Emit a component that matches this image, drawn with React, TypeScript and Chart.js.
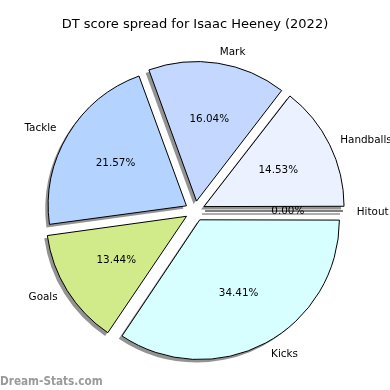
import React, { useEffect, useRef } from "react";
import { Chart, registerables } from "chart.js";

Chart.register(...registerables);

// Data in matplotlib order (counter-clockwise from 3 o'clock)
const categories = ["Hitout", "Handballs", "Mark", "Tackle", "Goals", "Kicks"];
const values = [0, 14.53, 16.04, 21.57, 13.44, 34.41];
const colors = ["#ffffff", "#ebf1ff", "#c4d8ff", "#b4d4ff", "#d1eb8b", "#d8ffff"];
const titleText = "DT score spread for Isaac Heeney (2022)";
const watermark = "Dream-Stats.com";

const FONT = '"DejaVu Sans", sans-serif';

const piePlugin = {
  id: "mplPie",
  beforeDatasetsDraw(chart: any) {
    const ctx = chart.ctx;
    const meta = chart.getDatasetMeta(0);
    meta.data.forEach((arc: any) => {
      const { x, y, startAngle, endAngle, outerRadius } = arc;
      const off = (arc.options.offset || 0) / 4;
      const half = (startAngle + endAngle) / 2;
      const circ = endAngle - startAngle;
      const fix = 1 - Math.sin(Math.min(Math.PI, circ || 0));
      const R = outerRadius + off * fix;
      ctx.save();
      ctx.translate(Math.cos(half) * off - 3, Math.sin(half) * off + 3);
      if (circ <= 0) {
        ctx.strokeStyle = "rgba(40,40,40,0.5)";
        ctx.lineWidth = 1.5;
        ctx.beginPath();
        ctx.moveTo(x, y);
        ctx.lineTo(x + Math.cos(half) * outerRadius, y + Math.sin(half) * outerRadius);
        ctx.stroke();
      } else {
        ctx.fillStyle = "rgba(40,40,40,0.5)";
        ctx.beginPath();
        ctx.moveTo(x, y);
        ctx.arc(x, y, R, startAngle, endAngle);
        ctx.closePath();
        ctx.fill();
      }
      ctx.restore();
    });
  },
  afterDatasetsDraw(chart: any) {
    const ctx = chart.ctx;
    const meta = chart.getDatasetMeta(0);
    const data = chart.data.datasets[0].data as number[];
    const names = chart.data.labels as string[];
    meta.data.forEach((arc: any, i: number) => {
      const { x, y, startAngle, endAngle, outerRadius } = arc;
      const off = (arc.options.offset || 0) / 4;
      const half = (startAngle + endAngle) / 2;
      const circ = endAngle - startAngle;
      const cx = x + Math.cos(half) * off;
      const cy = y + Math.sin(half) * off;
      ctx.save();
      if (circ <= 0) {
        ctx.strokeStyle = "#000";
        ctx.lineWidth = 1;
        ctx.beginPath();
        ctx.moveTo(cx, cy);
        ctx.lineTo(cx + Math.cos(half) * outerRadius, cy + Math.sin(half) * outerRadius);
        ctx.stroke();
      }
      ctx.fillStyle = "#000";
      ctx.font = `10.4px ${FONT}`;
      ctx.textBaseline = "middle";
      const c = Math.cos(half);
      const s = Math.sin(half);
      ctx.textAlign = c >= -1e-9 ? "left" : "right";
      ctx.fillText(names[i], cx + c * outerRadius * 1.1, cy + s * outerRadius * 1.1 + 1);
      ctx.textAlign = "center";
      ctx.fillText(data[i].toFixed(2) + "%", cx + c * outerRadius * 0.6, cy + s * outerRadius * 0.6);
      ctx.restore();
    });
  },
  afterDraw(chart: any) {
    const ctx = chart.ctx;
    ctx.save();
    ctx.fillStyle = "#000";
    ctx.font = `13px ${FONT}`;
    ctx.textAlign = "center";
    ctx.textBaseline = "middle";
    ctx.fillText(titleText, 195, 25);
    ctx.fillStyle = "#9a9a9a";
    ctx.font = `bold 10.5px ${FONT}`;
    ctx.textAlign = "left";
    ctx.textBaseline = "alphabetic";
    ctx.save();
    ctx.translate(0, 385);
    ctx.scale(1, 1.2);
    ctx.fillText(watermark, 0, 0);
    ctx.restore();
    ctx.restore();
  },
};

export default function App() {
  const ref = useRef<HTMLCanvasElement | null>(null);
  useEffect(() => {
    document.body.style.margin = "0";
    const el = ref.current;
    if (!el) return;
    const rev = <T,>(a: T[]) => a.slice().reverse();
    const chart = new Chart(el, {
      type: "pie",
      data: {
        labels: rev(categories),
        datasets: [
          {
            data: rev(values),
            backgroundColor: rev(colors),
            borderColor: "#000",
            borderWidth: 1,
            offset: 40,
            hoverOffset: 0,
          } as any,
        ],
      },
      options: {
        responsive: false,
        animation: false,
        rotation: 90,
        radius: 138,
        layout: { padding: { top: 32, bottom: 0, left: 0, right: 0 } },
        plugins: {
          legend: { display: false },
          title: { display: false },
          tooltip: { enabled: false },
        },
        events: [],
      } as any,
      plugins: [piePlugin],
    });
    return () => chart.destroy();
  }, []);
  return (
    <div style={{ position: "absolute", left: 0, top: 0, width: 390, height: 390, background: "#fff" }}>
      <canvas ref={ref} width={390} height={390} style={{ width: 390, height: 390 }} />
    </div>
  );
}
